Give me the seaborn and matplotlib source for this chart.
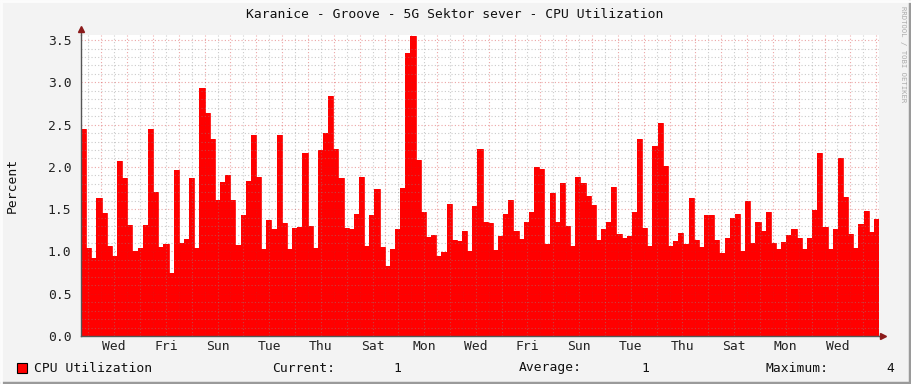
import numpy as np
import seaborn as sns
import matplotlib.pyplot as plt
import matplotlib.transforms as mtransforms
from matplotlib.patches import Rectangle

# CPU utilisation (%), one value per ~4.8 h step
cpu = [2.45, 1.04, 0.92, 1.63, 1.45, 1.06, 0.95, 2.07, 1.87, 1.31, 1.01, 1.04, 1.31,
       2.45, 1.70, 1.05, 1.09, 0.74, 1.96, 1.10, 1.15, 1.87, 1.04, 2.93, 2.64, 2.33,
       1.61, 1.82, 1.91, 1.61, 1.08, 1.43, 1.83, 2.38, 1.88, 1.03, 1.37, 1.26, 2.38,
       1.34, 1.03, 1.28, 1.29, 2.17, 1.30, 1.04, 2.20, 2.40, 2.84, 2.21, 1.87, 1.28,
       1.26, 1.44, 1.88, 1.06, 1.43, 1.74, 1.05, 0.83, 1.03, 1.26, 1.75, 3.35, 3.55,
       2.08, 1.47, 1.17, 1.19, 0.95, 0.99, 1.56, 1.13, 1.12, 1.24, 1.00, 1.54, 2.21,
       1.35, 1.34, 1.02, 1.18, 1.44, 1.61, 1.24, 1.15, 1.35, 1.47, 2.00, 1.97, 1.09,
       1.69, 1.35, 1.81, 1.30, 1.06, 1.88, 1.81, 1.65, 1.55, 1.13, 1.26, 1.35, 1.76,
       1.21, 1.16, 1.18, 1.47, 2.33, 1.28, 1.06, 2.25, 2.52, 2.01, 1.06, 1.12, 1.22,
       1.09, 1.63, 1.13, 1.05, 1.43, 1.43, 1.13, 0.98, 1.16, 1.39, 1.44, 1.00, 1.60,
       1.10, 1.35, 1.24, 1.47, 1.10, 1.03, 1.11, 1.19, 1.26, 1.16, 1.03, 1.16, 1.49,
       2.16, 1.29, 1.03, 1.26, 2.10, 1.64, 1.21, 1.04, 1.32, 1.48, 1.23, 1.38]
day_labels = ['Wed', 'Fri', 'Sun', 'Tue', 'Thu', 'Sat', 'Mon', 'Wed',
              'Fri', 'Sun', 'Tue', 'Thu', 'Sat', 'Mon', 'Wed']
title = 'Karanice - Groove - 5G Sektor sever - CPU Utilization'
current, average, maximum = '1', '1', '4'

# time in days, 0 = start of the first Wednesday
t_start = -0.786
t_end = 30.11
step = (t_end - t_start) / len(cpu)
t = t_start + step * np.arange(len(cpu) + 1)
vals = cpu + [cpu[-1]]

sns.set_style('white')
plt.rcParams['font.family'] = ['DejaVu Sans Mono']
FS = 9.4
bg = '#F3F3F3'

fig = plt.figure(figsize=(9.11, 3.84), dpi=100, facecolor=bg)
ax = fig.add_axes([81 / 911, 48 / 384, 798 / 911, 301 / 384])
ax.set_facecolor('white')

ax.fill_between(t, vals, step='post', color='#FF0000', linewidth=0, zorder=2)
sns.lineplot(x=t, y=vals, drawstyle='steps-post', color='#FF0000', linewidth=0.6, ax=ax, zorder=2)

ax.set_xlim(t_start, t_end)
ax.set_ylim(0, 3.56)

# grid on top of the area, like rrdtool
ax.set_xticks(np.arange(0, 31, 1))
ax.set_xticks(np.arange(-0.5, 30.5, 1), minor=True)
ax.set_yticks(np.arange(0, 3.51, 0.5))
ax.set_yticks(np.arange(0, 3.56, 0.1), minor=True)
ax.grid(which='minor', color='#8C8C8C', alpha=0.45, linestyle=(0, (1, 2)), linewidth=0.8, zorder=3)
ax.grid(which='major', color='#D02020', alpha=0.4, linestyle=(0, (1, 2)), linewidth=0.8, zorder=3)
ax.set_axisbelow(False)

ax.set_xticklabels([])
ax.set_yticklabels(['%.1f' % v for v in np.arange(0, 3.51, 0.5)], fontsize=FS, color='#222222')
ax.tick_params(axis='y', which='major', length=3, color='#C04040', pad=4, direction='out')
ax.tick_params(axis='both', which='minor', length=0)
ax.tick_params(axis='x', which='major', length=2, color='#C04040', direction='out')

# day names at noon of every second day
lab_tr = mtransforms.blended_transform_factory(ax.transData, fig.transFigure)
for i, lab in enumerate(day_labels):
    ax.text(0.5 + 2 * i, 1 - 347 / 384, lab, ha='center', va='center', fontsize=FS,
            color='#222222', transform=lab_tr)

for s in ['top', 'right']:
    ax.spines[s].set_visible(False)
for s in ['left', 'bottom']:
    ax.spines[s].set_color('#555555')
    ax.spines[s].set_linewidth(1.0)
    ax.spines[s].set_zorder(4)

# axis arrows
ax.plot([0, 0], [1, 1.015], transform=ax.transAxes, color='#555555', lw=1, clip_on=False)
ax.plot(0, 1.02, marker='^', color='#8B1A1A', markersize=4, transform=ax.transAxes, clip_on=False)
ax.plot([1, 1.004], [0, 0], transform=ax.transAxes, color='#555555', lw=1, clip_on=False)
ax.plot(1.005, 0, marker='>', color='#8B1A1A', markersize=4, transform=ax.transAxes, clip_on=False)

fig.text(455 / 911, 1 - 14 / 384, title, ha='center', va='center', fontsize=FS, color='#111111')
fig.text(12 / 911, 1 - 185 / 384, 'Percent', rotation=90, ha='center', va='center',
         fontsize=FS, color='#111111')
fig.text(903 / 911, 1 - 6 / 384, 'RRDTOOL / TOBI OETIKER', rotation=270, ha='center', va='top',
         fontsize=5.2, color='#AAAAAA')

# legend row
ly = 1 - 368 / 384
fig.patches.append(Rectangle((17 / 911, 1 - 373 / 384), 10 / 911, 10 / 384,
                             facecolor='#FF0000', edgecolor='black', linewidth=0.8,
                             transform=fig.transFigure))
fig.text(34 / 911, ly, 'CPU Utilization', ha='left', va='center', fontsize=FS, color='#111111')
fig.text(272 / 911, ly, 'Current:', ha='left', va='center', fontsize=FS, color='#111111')
fig.text(393 / 911, ly, current, ha='left', va='center', fontsize=FS, color='#111111')
fig.text(519 / 911, ly, 'Average:', ha='left', va='center', fontsize=FS, color='#111111')
fig.text(641 / 911, ly, average, ha='left', va='center', fontsize=FS, color='#111111')
fig.text(766 / 911, ly, 'Maximum:', ha='left', va='center', fontsize=FS, color='#111111')
fig.text(886 / 911, ly, maximum, ha='left', va='center', fontsize=FS, color='#111111')

# 3d frame of the canvas
fig.lines.append(plt.Line2D([0, 1], [1.5 / 384, 1.5 / 384], color='#9A9A9A', lw=2.5, transform=fig.transFigure))
fig.lines.append(plt.Line2D([1 - 1.5 / 911, 1 - 1.5 / 911], [0, 1], color='#9A9A9A', lw=2.5, transform=fig.transFigure))
fig.lines.append(plt.Line2D([0, 1], [1 - 1 / 384, 1 - 1 / 384], color='#FCFCFC', lw=2, transform=fig.transFigure))
fig.lines.append(plt.Line2D([1 / 911, 1 / 911], [0, 1], color='#FCFCFC', lw=2, transform=fig.transFigure))

fig.savefig('out.png', dpi=100, facecolor=bg)
